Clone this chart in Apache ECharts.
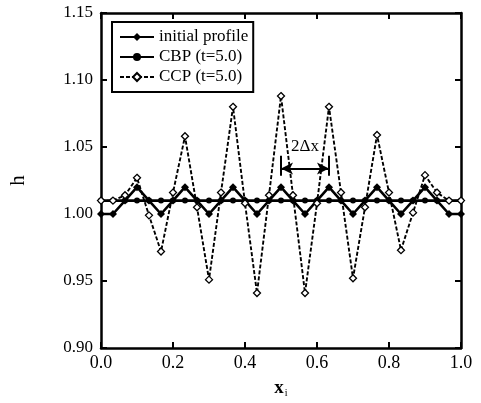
<!DOCTYPE html>
<html>
<head>
<meta charset="utf-8">
<script src="https://cdn.jsdelivr.net/npm/echarts@6/dist/echarts.min.js"></script>
<style>
  html, body { margin: 0; padding: 0; background: #fff; }
  #chart { width: 481px; height: 403px; }
</style>
</head>
<body>
<div id="chart"></div>
<script>
// Grid positions x_i (31 nodes on [0, 1])
const xNodes = [0.0000, 0.0333, 0.0667, 0.1000, 0.1333, 0.1667, 0.2000, 0.2333, 0.2667, 0.3000,
                0.3333, 0.3667, 0.4000, 0.4333, 0.4667, 0.5000, 0.5333, 0.5667, 0.6000, 0.6333,
                0.6667, 0.7000, 0.7333, 0.7667, 0.8000, 0.8333, 0.8667, 0.9000, 0.9333, 0.9667, 1.0000];

// Film height h at each node
const hInitial = [1.00, 1.00, 1.01, 1.02, 1.01, 1.00, 1.01, 1.02, 1.01, 1.00,
                  1.01, 1.02, 1.01, 1.00, 1.01, 1.02, 1.01, 1.00, 1.01, 1.02,
                  1.01, 1.00, 1.01, 1.02, 1.01, 1.00, 1.01, 1.02, 1.01, 1.00, 1.00];
const hCBP = [1.01, 1.01, 1.01, 1.01, 1.01, 1.01, 1.01, 1.01, 1.01, 1.01,
              1.01, 1.01, 1.01, 1.01, 1.01, 1.01, 1.01, 1.01, 1.01, 1.01,
              1.01, 1.01, 1.01, 1.01, 1.01, 1.01, 1.01, 1.01, 1.01, 1.01, 1.01];
const hCCP = [1.010, 1.010, 1.014, 1.027, 0.999, 0.972, 1.016, 1.058, 1.005, 0.951,
              1.016, 1.080, 1.008, 0.941, 1.014, 1.088, 1.014, 0.941, 1.008, 1.080,
              1.016, 0.952, 1.005, 1.059, 1.016, 0.973, 1.001, 1.029, 1.016, 1.010, 1.010];

const seriesNames = ['initial profile', 'CBP (t=5.0)', 'CCP (t=5.0)'];

// Axis ranges and ticks
const xTicks = [0.0, 0.2, 0.4, 0.6, 0.8, 1.0];
const yTicks = [0.90, 0.95, 1.00, 1.05, 1.10, 1.15];

// Wavelength annotation (2Δx) between two neighbouring CCP peaks
const spanX = [0.5, 0.6333];
const spanY = 1.034;
const spanBarY = [1.0286, 1.0434];
const spanLabel = '2Δx';
const spanLabelPos = [0.5667, 1.0505];

const pairs = (ys) => xNodes.map((x, i) => [x, ys[i]]);

const FONT = '"Liberation Serif", "DejaVu Serif", serif';

const chart = echarts.init(document.getElementById('chart'), null, { renderer: 'canvas' });

const axisCommon = {
  axisLine: { show: true, onZero: false, lineStyle: { color: '#000', width: 2.5 } },
  axisTick: { show: true, inside: true, length: 6, lineStyle: { color: '#000', width: 2 } },
  splitLine: { show: false }
};

chart.setOption({
  backgroundColor: '#fff',
  animation: false,
  grid: { left: 100, right: 20, top: 13, bottom: 53 },
  legend: {
    left: 112, top: 22,
    orient: 'vertical',
    data: seriesNames,
    itemWidth: 34, itemHeight: 10, itemGap: 2,
    padding: [6, 5, 6, 7],
    backgroundColor: '#fff',
    borderColor: '#000', borderWidth: 2, borderRadius: 0,
    textStyle: { fontFamily: FONT, fontSize: 17, color: '#000', lineHeight: 18 }
  },
  xAxis: [
    Object.assign({}, axisCommon, {
      type: 'value', min: xTicks[0], max: xTicks[xTicks.length - 1], interval: 0.2,
      position: 'bottom',
      axisLabel: { color: '#000', fontFamily: FONT, fontSize: 18, margin: 6,
                   formatter: v => v.toFixed(1) },
      name: '{x|x}{s|i}', nameLocation: 'middle', nameGap: 30,
      nameTextStyle: { rich: {
        x: { fontFamily: FONT, fontSize: 19, color: '#000', fontWeight: 'bold' },
        s: { fontFamily: FONT, fontSize: 10, color: '#000', verticalAlign: 'bottom', padding: [10, 0, 0, 1] }
      } }
    }),
    Object.assign({}, axisCommon, {
      type: 'value', min: xTicks[0], max: xTicks[xTicks.length - 1], interval: 0.2,
      position: 'top', axisLabel: { show: false }
    })
  ],
  yAxis: [
    Object.assign({}, axisCommon, {
      type: 'value', min: yTicks[0], max: yTicks[yTicks.length - 1], interval: 0.05,
      position: 'left',
      axisLabel: { color: '#000', fontFamily: FONT, fontSize: 17, margin: 8,
                   formatter: v => v.toFixed(2) },
      name: 'h', nameLocation: 'middle', nameGap: 72, nameRotate: 90,
      nameTextStyle: { fontFamily: FONT, fontSize: 21, color: '#000' }
    }),
    Object.assign({}, axisCommon, {
      type: 'value', min: yTicks[0], max: yTicks[yTicks.length - 1], interval: 0.05,
      position: 'right', axisLabel: { show: false }
    })
  ],
  series: [
    {
      name: seriesNames[0], type: 'line', data: pairs(hInitial),
      symbol: 'diamond', symbolSize: 8, z: 3,
      itemStyle: { color: '#000' },
      lineStyle: { color: '#000', width: 2.6 }
    },
    {
      name: seriesNames[1], type: 'line', data: pairs(hCBP),
      symbol: 'circle', symbolSize: 6, z: 2,
      itemStyle: { color: '#000' },
      lineStyle: { color: '#000', width: 2.6 }
    },
    {
      name: seriesNames[2], type: 'line', data: pairs(hCCP),
      symbol: 'diamond', symbolSize: 7, z: 4,
      itemStyle: { color: '#fff', borderColor: '#000', borderWidth: 1.3 },
      lineStyle: { color: '#000', width: 1.9, type: [4, 2] },
      markLine: {
        silent: true, symbol: ['arrow', 'arrow'], symbolSize: [9, 12],
        label: { show: false },
        lineStyle: { color: '#000', width: 2, type: 'solid' },
        data: [
          [{ coord: [spanX[0], spanY] }, { coord: [spanX[1], spanY] }],
          [{ coord: [spanX[0], spanBarY[0]], symbol: 'none' }, { coord: [spanX[0], spanBarY[1]], symbol: 'none' }],
          [{ coord: [spanX[1], spanBarY[0]], symbol: 'none' }, { coord: [spanX[1], spanBarY[1]], symbol: 'none' }]
        ]
      },
      markPoint: {
        silent: true, symbol: 'circle', symbolSize: 0,
        label: { show: true, position: 'inside', formatter: spanLabel,
                 fontFamily: FONT, fontSize: 17, color: '#000' },
        data: [{ coord: spanLabelPos }]
      }
    }
  ]
});
</script>
</body>
</html>
